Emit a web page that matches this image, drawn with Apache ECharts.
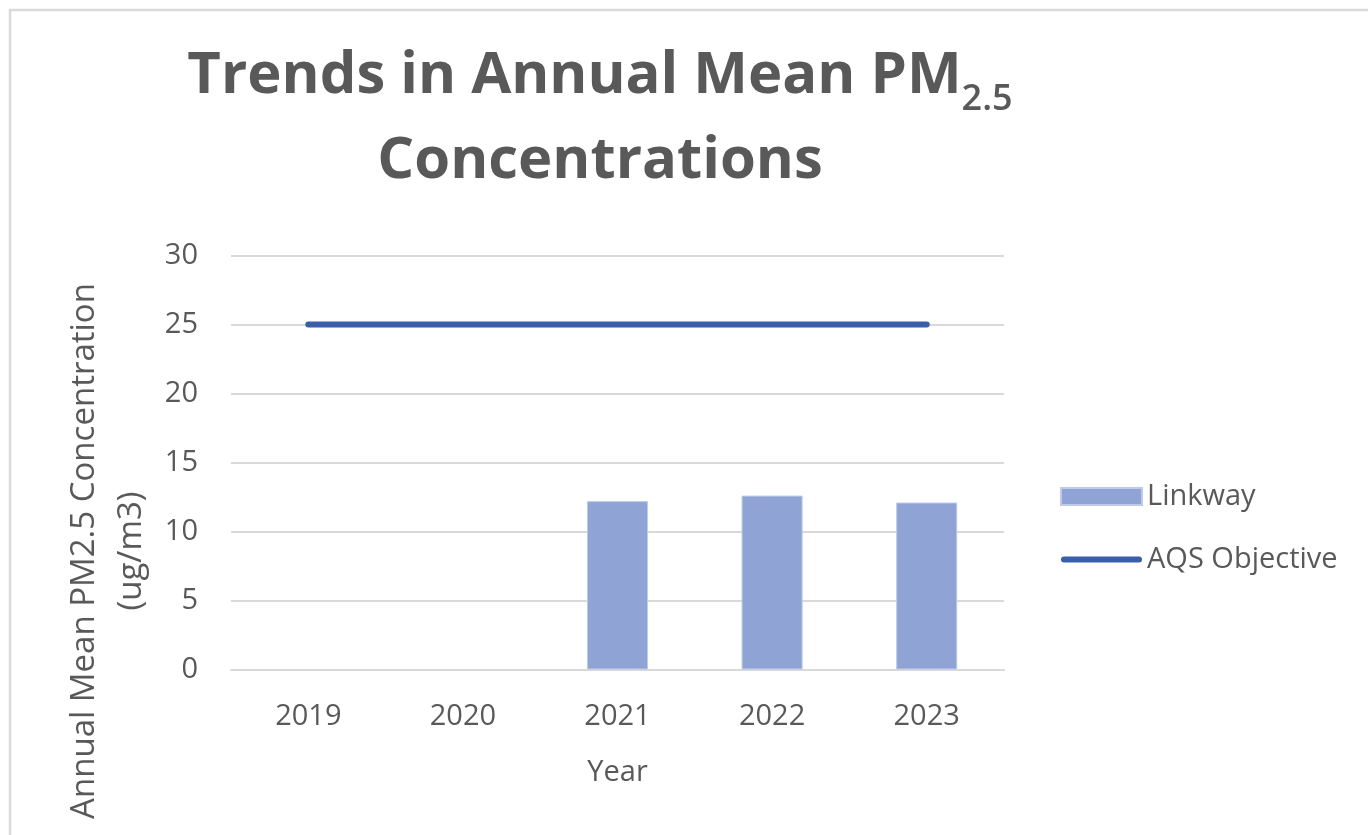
<!DOCTYPE html>
<html>
<head>
<meta charset="utf-8">
<script src="https://cdn.jsdelivr.net/npm/echarts@6/dist/echarts.min.js"></script>
<style>
html,body{margin:0;padding:0;background:#fff;}
#chart{width:1368px;height:835px;}
</style>
</head>
<body>
<div id="chart"></div>
<script>
const years = ['2019', '2020', '2021', '2022', '2023'];
const linkway = [null, null, 12.2, 12.6, 12.1];
const aqsObjective = [25, 25, 25, 25, 25];
const yMin = 0, yMax = 30, yStep = 5;
const titleLine1 = 'Trends in Annual Mean PM';
const titleSub = '2.5';
const titleLine2 = 'Concentrations';
const yAxisName = 'Annual Mean PM2.5 Concentration\n(ug/m3)';
const xAxisName = 'Year';

const textColor = '#595959';
const body = '"Open Sans", sans-serif';

const chart = echarts.init(document.getElementById('chart'));
chart.setOption({
  backgroundColor: '#ffffff',
  animation: false,
  graphic: [
    {
      type: 'rect', z: -10, silent: true,
      shape: { x: 10, y: 10, width: 1400, height: 900 },
      style: { fill: 'none', stroke: '#d9d9d9', lineWidth: 2.5 }
    },
    {
      type: 'text', x: 600, y: 47,
      style: {
        text: '{a1|' + titleLine1 + '}{s|' + titleSub + '}\n{a2|' + titleLine2 + '}',
        align: 'center', verticalAlign: 'top',
        rich: {
          a1: { fontFamily: body, fontWeight: 'bold', fontSize: 58, lineHeight: 71, fill: textColor, verticalAlign: 'top' },
          s: { fontFamily: body, fontWeight: 600, fontSize: 36, lineHeight: 71, fill: textColor, verticalAlign: 'bottom' },
          a2: { fontFamily: body, fontWeight: 'bold', fontSize: 58, lineHeight: 72, fill: textColor, verticalAlign: 'bottom' }
        }
      }
    },
    {
      type: 'text', x: 108, y: 551, rotation: Math.PI / 2,
      style: {
        text: yAxisName, align: 'center', verticalAlign: 'middle',
        fontFamily: body, fontSize: 33, lineHeight: 47, fill: textColor
      }
    }
  ],
  legend: {
    orient: 'vertical', left: 1055, top: 477,
    itemWidth: 81, itemHeight: 17, itemGap: 34,
    textStyle: { fontFamily: body, fontSize: 29, color: textColor },
    data: [
      { name: 'Linkway', icon: 'rect' },
      { name: 'AQS Objective', icon: 'path://M3,0 L78,0 A3,3 0 0 1 78,6 L3,6 A3,3 0 0 1 3,0 Z' }
    ]
  },
  grid: { left: 231, right: 364, top: 255.5, bottom: 165.5 },
  xAxis: {
    type: 'category', data: years,
    name: xAxisName, nameLocation: 'middle', nameGap: 89,
    nameTextStyle: { fontFamily: body, fontSize: 29, color: textColor },
    axisLine: { lineStyle: { color: '#d9d9d9', width: 2 } },
    axisTick: { show: false },
    axisLabel: { fontFamily: body, fontSize: 29, color: textColor, margin: 33 }
  },
  yAxis: {
    type: 'value', min: yMin, max: yMax, interval: yStep,
    axisLine: { show: false }, axisTick: { show: false },
    axisLabel: { fontFamily: body, fontSize: 29, color: textColor, margin: 33 },
    splitLine: { lineStyle: { color: '#d9d9d9', width: 2 } }
  },
  series: [
    {
      name: 'Linkway', type: 'bar', data: linkway, barWidth: '39.5%',
      itemStyle: { color: '#8fa3d4', borderColor: '#bccaec', borderWidth: 1 }
    },
    {
      name: 'AQS Objective', type: 'line', data: aqsObjective,
      symbol: 'none',
      lineStyle: { color: '#3a5faa', width: 6, cap: 'round' },
      itemStyle: { color: '#3a5faa' }
    }
  ]
});
</script>
</body>
</html>
